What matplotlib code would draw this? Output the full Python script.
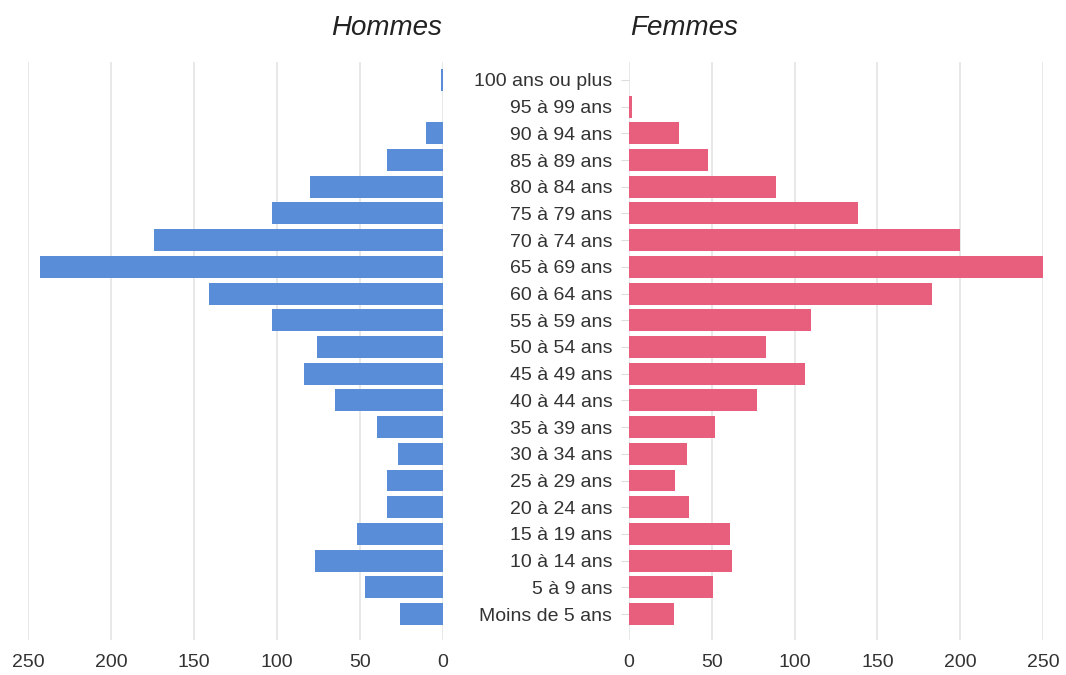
import matplotlib
matplotlib.use('Agg')
import matplotlib.pyplot as plt
import numpy as np

# Data
age_groups = ["Moins de 5 ans", "5 à 9 ans", "10 à 14 ans", "15 à 19 ans", "20 à 24 ans",
              "25 à 29 ans", "30 à 34 ans", "35 à 39 ans", "40 à 44 ans", "45 à 49 ans",
              "50 à 54 ans", "55 à 59 ans", "60 à 64 ans", "65 à 69 ans", "70 à 74 ans",
              "75 à 79 ans", "80 à 84 ans", "85 à 89 ans", "90 à 94 ans", "95 à 99 ans",
              "100 ans ou plus"]
hommes = [26, 47, 77, 52, 34, 34, 27, 40, 65, 84, 76, 103, 141, 243, 174,
          103, 80, 34, 10, 0, 1]
femmes = [27, 51, 62, 61, 36, 28, 35, 52, 77, 106, 83, 110, 183, 252, 200,
          138, 89, 48, 30, 2, 0]
ticks = [0, 50, 100, 150, 200, 250]

BLUE = '#5A8DD8'
PINK = '#E85F7D'
GRID = '#E4E4E4'
TEXT = '#333333'

plt.rcParams['font.family'] = ['Liberation Sans', 'DejaVu Sans']

W, H = 1066, 675
fig = plt.figure(figsize=(W / 100, H / 100), dpi=100)

def box(x0, x1, y_top, y_bot):
    return [x0 / W, 1 - y_bot / H, (x1 - x0) / W, (y_bot - y_top) / H]

ax_l = fig.add_axes(box(28, 443, 62, 640))
ax_r = fig.add_axes(box(629, 1043, 62, 640))

y = np.arange(len(age_groups))

ax_l.barh(y, hommes, height=0.82, color=BLUE, zorder=3)
ax_r.barh(y, femmes, height=0.82, color=PINK, zorder=3)

for ax in (ax_l, ax_r):
    ax.set_ylim(-0.97, len(age_groups) - 0.33)
    ax.set_xticks(ticks)
    ax.set_xticklabels([str(t) for t in ticks])
    ax.grid(axis='x', color=GRID, linewidth=1.2, zorder=0)
    ax.grid(axis='y', visible=False)
    for s in ax.spines.values():
        s.set_visible(False)
    ax.tick_params(axis='x', length=0, labelsize=14, labelcolor=TEXT, pad=10)

ax_l.set_xlim(250, 0)
ax_r.set_xlim(0, 250)

ax_l.set_yticks([])
ax_r.set_yticks(y)
ax_r.set_yticklabels(age_groups)
ax_r.tick_params(axis='y', length=6, color='#DDDDDD', labelsize=14,
                 labelcolor=TEXT, pad=6)

fig.text(442 / W, 1 - 28 / H, 'Hommes', ha='right', va='center',
         fontsize=20, style='italic', color='#222222')
fig.text(630 / W, 1 - 28 / H, 'Femmes', ha='left', va='center',
         fontsize=20, style='italic', color='#222222')

fig.savefig('out.png', dpi=100, facecolor='white')
